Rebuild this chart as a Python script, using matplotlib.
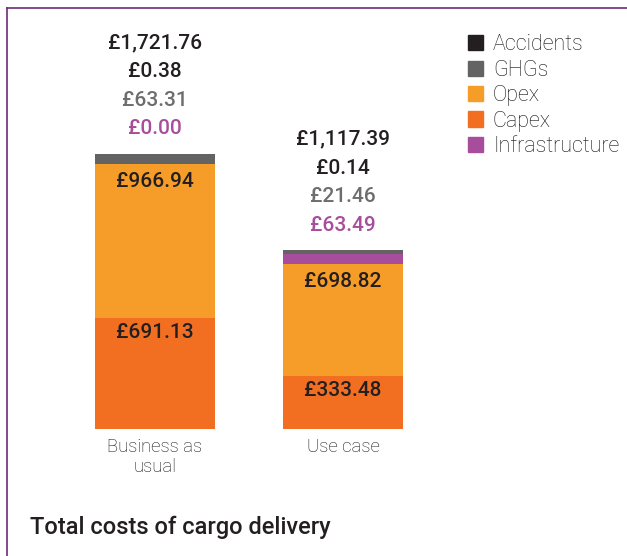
import matplotlib.pyplot as plt
from matplotlib.lines import Line2D

plt.rcParams['font.family'] = ['Roboto', 'DejaVu Sans']

categories = ['Business as\nusual', 'Use case']
capex = [691.13, 333.48]
opex = [966.94, 698.82]
infrastructure = [0.00, 63.49]
ghgs = [63.31, 21.46]
accidents = [0.38, 0.14]
totals = [1721.76, 1117.39]

c_acc = '#231f20'
c_ghg = '#636363'
c_opex = '#f69c28'
c_capex = '#f26f22'
c_infra = '#a84d9c'

W, H = 627, 556
fig = plt.figure(figsize=(W / 100, H / 100), dpi=100)
# axes placed in pixel terms: bottom of bars at y=429, 0.16 px per unit
ax = fig.add_axes([60 / W, 1 - 429 / H, 380 / W, 400 / H])
ax.set_xlim(-0.505, 1.516)
ax.set_ylim(0, 2500)
ax.axis('off')

x = [0, 1]
w = 0.638
bottom = [0, 0]
segments = [(capex, c_capex), (opex, c_opex), (infrastructure, c_infra),
            (ghgs, c_ghg), (accidents, c_acc)]
for vals, col in segments:
    ax.bar(x, vals, w, bottom=bottom, color=col, linewidth=0)
    bottom = [b + v for b, v in zip(bottom, vals)]

# labels inside capex / opex segments
for i in x:
    for top, val, off in [(capex[i], capex[i], -5), (capex[i] + opex[i], opex[i], -8)]:
        ax.annotate(f'£{val:,.2f}', (i, top), xytext=(0, off),
                    textcoords='offset pixels', ha='center', va='top',
                    fontsize=15, fontweight='medium', color=c_acc)

# stacked labels above bars
for i in x:
    top = bottom[i]
    lines = [(f'£{totals[i]:,.2f}', c_acc, 111),
             (f'£{accidents[i]:,.2f}', c_acc, 82),
             (f'£{ghgs[i]:,.2f}', '#6d6d6d', 53.5),
             (f'£{infrastructure[i]:,.2f}', c_infra, 25)]
    for txt, col, off in lines:
        ax.annotate(txt, (i, top), xytext=(0, off), textcoords='offset pixels',
                    ha='center', va='center', fontsize=15, fontweight='medium',
                    color=col)

# category labels
for i, lab in zip(x, categories):
    ax.annotate(lab, (i, 0), xytext=(0, -9), textcoords='offset pixels',
                ha='center', va='top', fontsize=13.3, fontweight='light',
                color='#111111', linespacing=1.12)

# legend
legend_items = [('Accidents', c_acc), ('GHGs', c_ghg), ('Opex', c_opex),
                ('Capex', c_capex), ('Infrastructure', c_infra)]
for k, (name, col) in enumerate(legend_items):
    yy = 1 - (43 + 25.5 * k) / H
    fig.patches.append(plt.Rectangle((468 / W, yy - 7 / H), 15 / W, 15 / H,
                                     transform=fig.transFigure, color=col,
                                     figure=fig))
    fig.text(493 / W, yy - 1.5 / H, name, ha='left', va='center', fontsize=15.5,
             fontweight='light', color='#111111')

fig.text(30 / W, 1 - 527 / H, 'Total costs of cargo delivery', ha='left',
         va='center', fontsize=17, fontweight='medium', color=c_acc)

# purple frame (left and top)
fig.add_artist(Line2D([7 / W, 7 / W], [0, 1 - 8 / H], color='#6e2a7e', lw=1.2,
                      transform=fig.transFigure))
fig.add_artist(Line2D([7 / W, 1], [1 - 8 / H, 1 - 8 / H], color='#6e2a7e',
                      lw=1.2, transform=fig.transFigure))

fig.savefig('out.png', dpi=100)
